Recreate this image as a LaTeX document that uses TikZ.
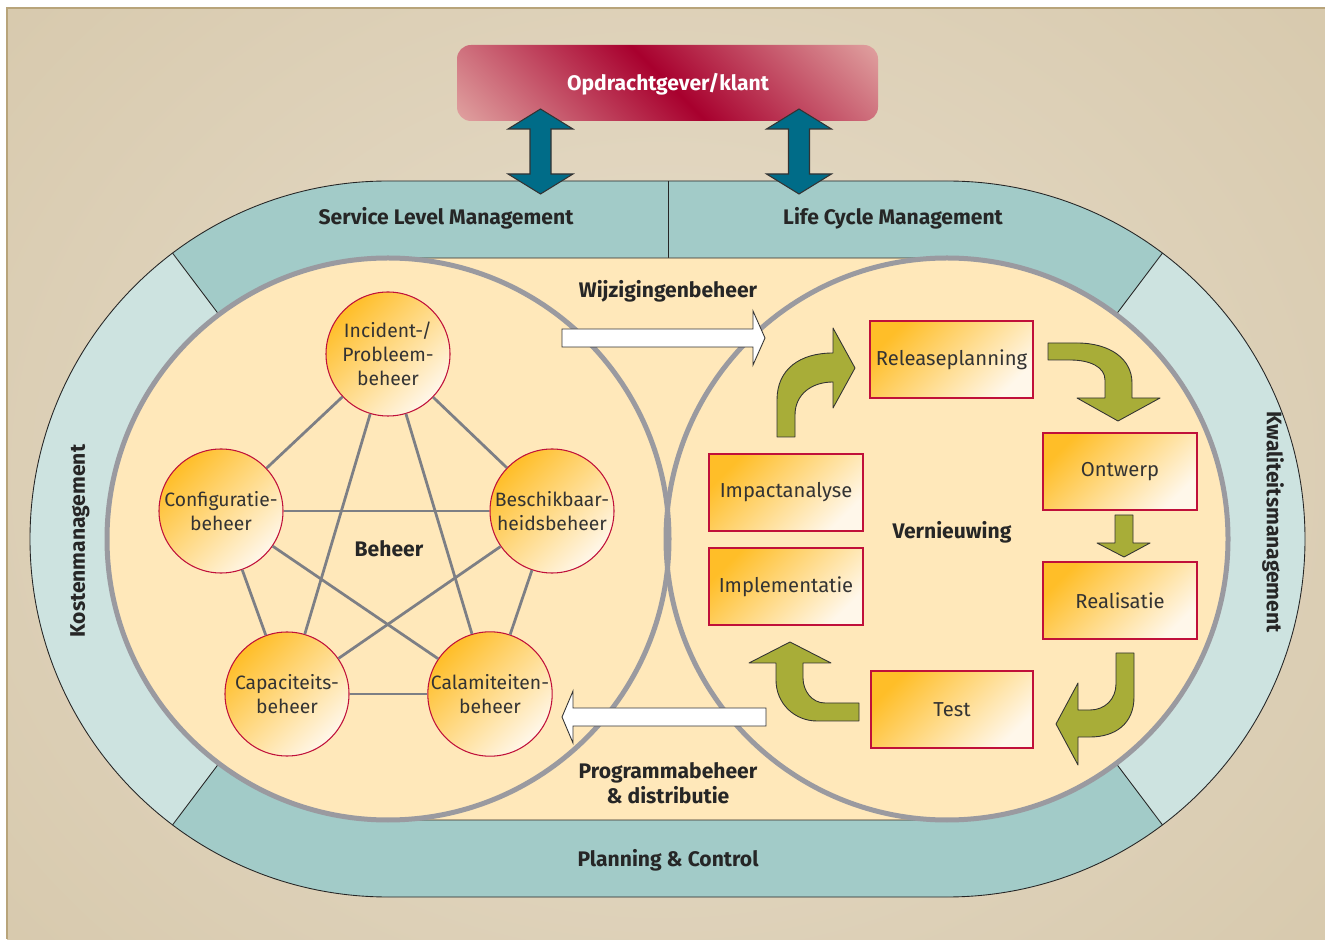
\documentclass[tikz,border=0pt]{standalone}
\usepackage{fontspec}
\setmainfont{Fira Sans}
\usepackage{tikz}
\usetikzlibrary{calc, positioning, arrows.meta}
\usepackage{xcolor}
\definecolor{bgTan}{RGB}{208,192,160}
\definecolor{bgLight}{RGB}{232,222,203}
\definecolor{bgEdge}{RGB}{184,164,122}
\definecolor{bandDark}{RGB}{162,203,200}
\definecolor{bandLight}{RGB}{205,227,224}
\definecolor{cream}{RGB}{255,232,186}
\definecolor{ringGray}{RGB}{154,154,160}
\definecolor{edgeGray}{RGB}{125,127,133}
\definecolor{crimson}{RGB}{192,16,58}
\definecolor{boxOrange}{RGB}{255,190,40}
\definecolor{boxPale}{RGB}{255,247,234}
\definecolor{klantRed}{RGB}{168,0,46}
\definecolor{klantPink}{RGB}{224,162,160}
\definecolor{arrowTeal}{RGB}{0,108,136}
\definecolor{arrowOlive}{RGB}{168,173,56}

\begin{document}
\begin{tikzpicture}[x=0.2mm, y=0.2mm,
    bandlabel/.style={font=\bfseries\fontsize{12}{14}\selectfont, text=black!85},
    zonelabel/.style={font=\bfseries\fontsize{12}{14}\selectfont, text=black!85, align=center},
    beheernode/.style={circle, draw=crimson, line width=0.6pt, minimum size=24.8mm, inner sep=0pt,
      top color=boxOrange, bottom color=boxPale, shading angle=45,
      align=center, font=\fontsize{11}{13.7}\selectfont, text=black!80},
    fasebox/.style={rectangle, draw=crimson, line width=0.6pt, minimum height=15.4mm, inner sep=2pt,
      top color=boxOrange, bottom color=boxPale, shading angle=45,
      font=\fontsize{11.5}{13}\selectfont, text=black!80},
    edge/.style={draw=edgeGray, line width=0.55mm},
    flowarrow/.style={fill=arrowOlive, draw=black!80, line width=0.5pt, line join=round},
    swaparrow/.style={fill=arrowTeal, draw=black!80, line width=0.6pt},
    passarrow/.style={fill=white, draw=black!80, line width=0.5pt}]

  % page and backdrop
  \useasboundingbox (0,0) rectangle (1325,939);
  \fill[white] (0,0) rectangle (1325,939);
  \begin{scope}
    \clip (7,0) rectangle (1325,931);
    \shade[inner color=bgLight, outer color=bgTan] (-600,-600) rectangle (1925,1530);
  \end{scope}
  \draw[bgEdge, line width=0.5mm] (7,0) -- (7,931) -- (1325,931);

  % outer ring
  \fill[bandDark] (388,758) -- (947,758) arc[start angle=90, end angle=-90, radius=358]
    -- (388,42) arc[start angle=270, end angle=90, radius=358] -- cycle;
  \fill[bandLight] (388,400) -- ++(127:358) arc[start angle=127, end angle=233, radius=358] -- cycle;
  \fill[bandLight] (947,400) -- ++(-53:358) arc[start angle=-53, end angle=53, radius=358] -- cycle;
  \draw[black!85, line width=0.5pt] (388,758) -- (947,758) arc[start angle=90, end angle=-90, radius=358]
    -- (388,42) arc[start angle=270, end angle=90, radius=358] -- cycle;
  \foreach \ang in {127, 233}
    \draw[black!85, line width=0.5pt] ($(388,400)+(\ang:281)$) -- ($(388,400)+(\ang:358)$);
  \foreach \ang in {53, -53}
    \draw[black!85, line width=0.5pt] ($(947,400)+(\ang:281)$) -- ($(947,400)+(\ang:358)$);
  \draw[black!85, line width=0.5pt] (668,758) -- (668,681);

  % inner field with the two circles
  \filldraw[fill=cream, draw=black!85, line width=0.5pt] (388,681) -- (947,681)
    arc[start angle=90, end angle=-90, radius=281]
    -- (388,119) arc[start angle=270, end angle=90, radius=281] -- cycle;
  \draw[ringGray, line width=1mm] (388,400) circle[radius=281];
  \draw[ringGray, line width=1mm] (947,400) circle[radius=281];

  % ring labels
  \node[bandlabel] (slm) at (446,721) {Service Level Management};
  \node[bandlabel] (lcm) at (893,721) {Life Cycle Management};
  \node[bandlabel] (pc) at (668,79) {Planning \& Control};
  \node[bandlabel, rotate=90] (kost) at (80,398) {Kostenmanagement};
  \node[bandlabel, rotate=-90] (kwal) at (1273,417) {Kwaliteitsmanagement};

  % client on top
  \begin{scope}
    \clip[rounded corners=2.8mm] (457,818) rectangle (878,894);
    \shade[transform canvas={rotate around={45:(668,856)}}, left color=klantPink, right color=klantPink,
      middle color=klantRed] (493,681) rectangle (843,1031);
  \end{scope}
  \node[font=\bfseries\fontsize{12}{14}\selectfont, text=white] (klant) at (668,855) {Opdrachtgever/klant};
  \foreach \cx in {540.5, 799}
    \draw[swaparrow] (\cx,830) -- ++(32.5,-20) -- ++(-22,0) -- ++(0,-45) -- ++(22,0) -- (\cx,745)
      -- ++(-32.5,20) -- ++(22,0) -- ++(0,45) -- ++(-22,0) -- cycle;

  % Beheer
  \node[zonelabel] (beheer) at (389,390) {Beheer};
  \node[beheernode] (inc) at (388,585) {Incident-/\\Probleem-\\beheer};
  \node[beheernode] (conf) at (221,428) {Configuratie-\\beheer};
  \node[beheernode] (besch) at (552,428) {Beschikbaar-\\heidsbeheer};
  \node[beheernode] (cap) at (287,245) {Capaciteits-\\beheer};
  \node[beheernode] (cal) at (490,245) {Calamiteiten-\\beheer};
  \foreach \a/\b in {inc/conf, inc/besch, inc/cap, inc/cal, conf/besch,
                     conf/cap, conf/cal, besch/cap, besch/cal, cap/cal}
    \draw[edge] (\a) -- (\b);

  % Vernieuwing
  \node[zonelabel] (vern) at (952,407) {Vernieuwing};
  \node[fasebox, minimum width=32.6mm] (rel) at (951.5,579.5) {Releaseplanning};
  \node[fasebox, minimum width=30.8mm] (ont) at (1120,467.5) {Ontwerp};
  \node[fasebox, minimum width=30.8mm] (real) at (1120,338.5) {Realisatie};
  \node[fasebox, minimum width=32.4mm] (test) at (952,229.5) {Test};
  \node[fasebox, minimum width=30.8mm] (imp) at (786,446.5) {Impactanalyse};
  \node[fasebox, minimum width=30.8mm] (impl) at (786,352.5) {Implementatie};

  % cycle arrows
  \draw[flowarrow] (777,502) -- (777,539) .. controls (777,570) and (800,586) .. (833,586)
    -- (833,611) -- (855,571) -- (833,531) -- (833,557) .. controls (812,557) and (795,545) .. (795,524)
    -- (795,502) -- cycle;
  \draw[flowarrow] (1048,596) -- (1077,596) .. controls (1110,596) and (1132,580) .. (1132,556)
    -- (1132,541) -- (1160,541) -- (1118,518) -- (1077,541) -- (1105,541) -- (1105,559)
    .. controls (1105,572) and (1090,579) .. (1070,579) -- (1048,579) -- cycle;
  \draw[flowarrow] (1115,424) -- (1133,424) -- (1133,396) -- (1150,396) -- (1124,382)
    -- (1097,396) -- (1115,396) -- cycle;
  \draw[flowarrow] (1116,286) -- (1134,286) -- (1134,242) .. controls (1134,215) and (1115,202) .. (1090,202)
    -- (1078,202) -- (1078,174) -- (1056,215) -- (1078,256) -- (1078,229) -- (1090,229)
    .. controls (1105,229) and (1116,240) .. (1116,255) -- cycle;
  \draw[flowarrow] (859,236) -- (825,236) .. controls (812,236) and (803,248) .. (803,261)
    -- (803,276) -- (831,276) -- (790,297) -- (749,276) -- (776,276) -- (776,259)
    .. controls (776,235) and (795,218) .. (817,218) -- (859,218) -- cycle;

  % exchange between the two fields
  \node[zonelabel] (wijz) at (668,648) {Wijzigingenbeheer};
  \node[zonelabel] (prog) at (668,156) {Programmabeheer\\\& distributie};
  \draw[passarrow] (562,610) -- (753,610) -- (753,628) -- (765,601) -- (753,574) -- (753,592)
    -- (562,592) -- cycle;
  \draw[passarrow] (766,231) -- (573,231) -- (573,248) -- (562,222) -- (573,196) -- (573,213)
    -- (766,213) -- cycle;
\end{tikzpicture}
\end{document}
